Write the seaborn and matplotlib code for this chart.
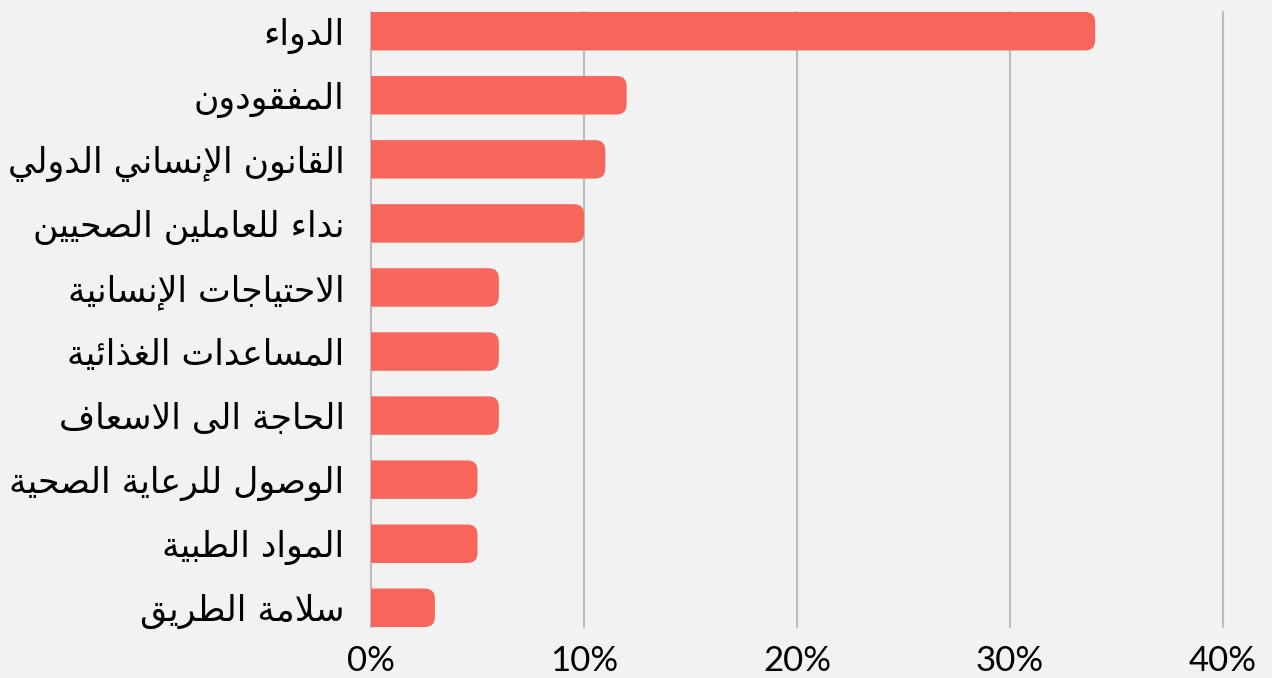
import matplotlib
matplotlib.use("Agg")
import matplotlib.pyplot as plt
import seaborn as sns
import pandas as pd
from matplotlib.patches import FancyBboxPatch
from matplotlib.ticker import PercentFormatter

categories = [
    "الدواء",
    "المفقودون",
    "القانون الإنساني الدولي",
    "نداء للعاملين الصحيين",
    "الاحتياجات الإنسانية",
    "المساعدات الغذائية",
    "الحاجة الى الاسعاف",
    "الوصول للرعاية الصحية",
    "المواد الطبية",
    "سلامة الطريق",
]
values = [34, 12, 11, 10, 6, 6, 6, 5, 5, 3]
x_ticks = [0, 10, 20, 30, 40]

BAR_COLOR = "#F7665A"
BG = "#F2F2F2"
GRID = "#BDBDBD"

# --- minimal Arabic shaping (presentation forms + visual order) ---
DUAL = {'\u0626': 0xFE89, '\u0628': 0xFE8F, '\u062A': 0xFE95, '\u062B': 0xFE99,
        '\u062C': 0xFE9D, '\u062D': 0xFEA1, '\u062E': 0xFEA5, '\u0633': 0xFEB1,
        '\u0634': 0xFEB5, '\u0635': 0xFEB9, '\u0636': 0xFEBD, '\u0637': 0xFEC1,
        '\u0638': 0xFEC5, '\u0639': 0xFEC9, '\u063A': 0xFECD, '\u0641': 0xFED1,
        '\u0642': 0xFED5, '\u0643': 0xFED9, '\u0644': 0xFEDD, '\u0645': 0xFEE1,
        '\u0646': 0xFEE5, '\u0647': 0xFEE9, '\u064A': 0xFEF1}
RIGHT = {'\u0622': 0xFE81, '\u0623': 0xFE83, '\u0624': 0xFE85, '\u0625': 0xFE87,
         '\u0627': 0xFE8D, '\u0629': 0xFE93, '\u062F': 0xFEA9, '\u0630': 0xFEAB,
         '\u0631': 0xFEAD, '\u0632': 0xFEAF, '\u0648': 0xFEED, '\u0649': 0xFEEF}
LAMALEF = {'\u0622': 0xFEF5, '\u0623': 0xFEF7, '\u0625': 0xFEF9, '\u0627': 0xFEFB}


def shape(text):
    tokens = []
    i = 0
    while i < len(text):
        c = text[i]
        if c == '\u0644' and i + 1 < len(text) and text[i + 1] in LAMALEF:
            b = LAMALEF[text[i + 1]]
            tokens.append(('R', (b, b + 1)))
            i += 2
            continue
        if c in DUAL:
            b = DUAL[c]
            tokens.append(('D', (b, b + 1, b + 2, b + 3)))
        elif c in RIGHT:
            b = RIGHT[c]
            tokens.append(('R', (b, b + 1)))
        elif c == '\u0621':
            tokens.append(('N', (0xFE80,)))
        else:
            tokens.append(('X', c))
        i += 1
    out = []
    for j, (k, f) in enumerate(tokens):
        if k == 'X':
            out.append(f)
            continue
        pj = k in 'DR' and j > 0 and tokens[j - 1][0] == 'D'
        nj = k == 'D' and j + 1 < len(tokens) and tokens[j + 1][0] in 'DR'
        if pj and nj:
            cp = f[3]
        elif pj:
            cp = f[1]
        elif nj:
            cp = f[2]
        else:
            cp = f[0]
        out.append(chr(cp))
    return ''.join(out)[::-1]


df = pd.DataFrame({"label": [shape(c) for c in categories], "value": values})

sns.set_theme(style="white")
plt.rcParams['font.family'] = ['Lato', 'DejaVu Sans']

fig = plt.figure(figsize=(12.72, 6.78), dpi=100, facecolor=BG)
ax = fig.add_axes([371 / 1272, 1 - 627 / 678, (1223 - 371) / 1272, (627 - 12) / 678])
ax.set_facecolor(BG)

sns.barplot(data=df, x="value", y="label", orient="h", color=BAR_COLOR,
            saturation=1, width=0.6, ax=ax, zorder=3)

ax.set_xlim(0, 40)
ax.set_ylim(9.3, -0.3)
ax.set_xticks(x_ticks)
ax.xaxis.set_major_formatter(PercentFormatter(decimals=0))
ax.set_xlabel("")
ax.set_ylabel("")
for s in ax.spines.values():
    s.set_visible(False)

ax.grid(axis="x", color=GRID, linewidth=1.5, zorder=0)
ax.set_axisbelow(True)
for gl in ax.get_xgridlines():
    gl.set_clip_on(False)

ax.tick_params(axis="both", length=0)
ax.tick_params(axis="x", pad=13, labelsize=25, colors="black")
ax.tick_params(axis="y", pad=19, labelsize=25, colors="black")
for t in ax.get_yticklabels():
    t.set_fontfamily(['DejaVu Sans'])

# rounded right ends
fig.canvas.draw()
px_x = ax.bbox.width / 40.0
px_y = ax.bbox.height / 9.6
aspect = px_x / px_y
r = 10.0 / px_x
for p in list(ax.patches):
    x0, y0 = p.get_x(), p.get_y()
    w, h = p.get_width(), p.get_height()
    fb = FancyBboxPatch((x0 - 2 * r, y0), w + 2 * r, h,
                        boxstyle=f"round,pad=0,rounding_size={r}",
                        mutation_aspect=aspect, facecolor=BAR_COLOR,
                        edgecolor="none", zorder=3)
    ax.add_patch(fb)
    p.set_visible(False)

fig.savefig("out.png", dpi=100, facecolor=BG)
